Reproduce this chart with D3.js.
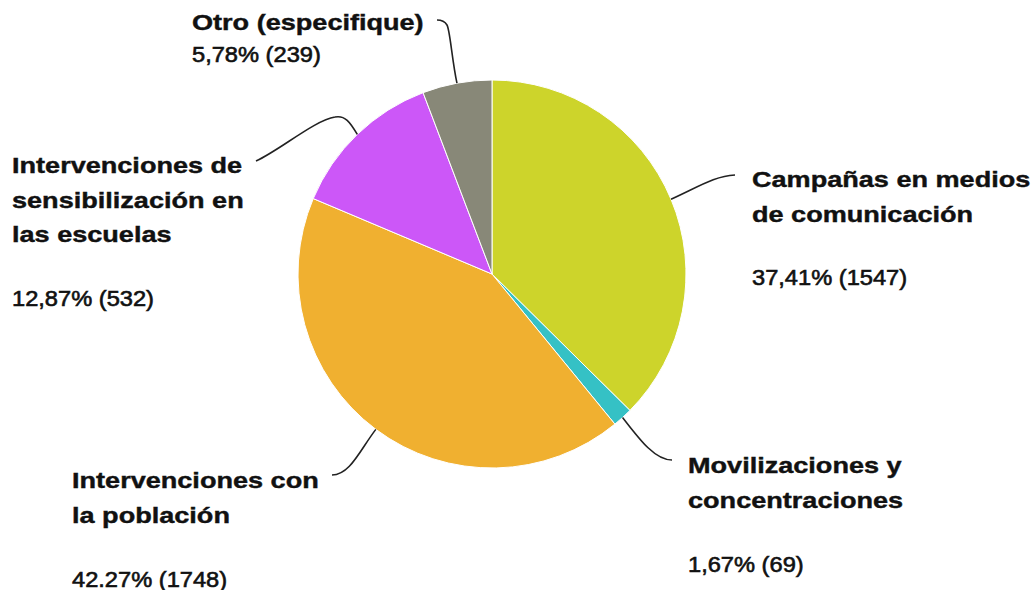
<!DOCTYPE html>
<html>
<head>
<meta charset="utf-8">
<script src="https://cdn.jsdelivr.net/npm/d3@7"></script>
<style>
  body { margin: 0; background: #fff; }
  text { font-family: "Liberation Sans", Arial, sans-serif; fill: #111; }
  .title { font-weight: bold; font-size: 21.5px; stroke: #111; stroke-width: 0.4px; }
  .value { font-size: 21.5px; stroke: #111; stroke-width: 0.6px; }
</style>
</head>
<body>
<svg width="1035" height="590"></svg>
<script>
var categories = [
    "Campañas en medios de comunicación",
    "Movilizaciones y concentraciones",
    "Intervenciones con la población",
    "Intervenciones de sensibilización en las escuelas",
    "Otro (especifique)"
];
var counts = [1547, 69, 1748, 532, 239];
var percentLabels = ["37,41%", "1,67%", "42.27%", "12,87%", "5,78%"];
var colors = ["#cdd42b", "#35c1c5", "#f0b030", "#cc57f8", "#888878"];

// label layout, one per slice
var titleLines = [
    ["Campañas en medios", "de comunicación"],
    ["Movilizaciones y", "concentraciones"],
    ["Intervenciones con", "la población"],
    ["Intervenciones de", "sensibilización en", "las escuelas"],
    ["Otro (especifique)"]
];
var labelPos = [
    {x: 752, y: 187, gap: 63},
    {x: 688, y: 473, gap: 64},
    {x: 72, y: 488, gap: 64},
    {x: 12, y: 173, gap: 64},
    {x: 192, y: 30, gap: 32}
];

var data = categories.map(function(c, i) {
    return {name: c, count: counts[i], pct: percentLabels[i], color: colors[i]};
});

var svg = d3.select("svg");
var cx = 492, cy = 274, r = 194;

var pie = d3.pie().sort(null).value(d => d.count);
var arc = d3.arc().innerRadius(0).outerRadius(r);
var arcs = pie(data);

var g = svg.append("g").attr("transform", "translate(" + cx + "," + cy + ")");

g.selectAll("path.slice")
    .data(arcs)
    .enter().append("path")
    .attr("class", "slice")
    .attr("d", arc)
    .attr("fill", d => d.data.color)
    .attr("stroke", "#fff")
    .attr("stroke-width", 1);

// leader lines: start on the rim at the slice's middle angle
function rimPoint(d) {
    var a = (d.startAngle + d.endAngle) / 2;
    return [cx + r * Math.sin(a), cy - r * Math.cos(a)];
}

var leaderShapes = [
    function(p) { return "M" + p + "C700,186 715,176 735,175"; },
    function(p) { return "M" + p + "C640,440 655,460 672,460"; },
    function(p) { return "M" + p + "C360,450 350,475 332,475"; },
    function(p) { return "M" + p + "C350,122 345,115 335,117C315,120 280,150 256,161"; },
    function(p) { return "M" + p + "C452,60 450,30 447,25Q444,20 437,20"; }
];

svg.selectAll("path.leader")
    .data(arcs)
    .enter().append("path")
    .attr("class", "leader")
    .attr("d", (d, i) => leaderShapes[i](rimPoint(d)))
    .attr("fill", "none")
    .attr("stroke", "#222")
    .attr("stroke-width", 1.6);

var labels = svg.selectAll("g.label")
    .data(arcs)
    .enter().append("g")
    .attr("class", "label");

labels.each(function(d, i) {
    var el = d3.select(this);
    var pos = labelPos[i];
    var lines = titleLines[i];
    lines.forEach(function(line, k) {
        el.append("text")
            .attr("class", "title")
            .attr("transform", "translate(" + pos.x + "," + (pos.y + k * 34.5) + ") scale(1.26,1)")
            .text(line);
    });
    el.append("text")
        .attr("class", "value")
        .attr("transform", "translate(" + pos.x + "," + (pos.y + (lines.length - 1) * 34.5 + pos.gap) + ") scale(1.1,1)")
        .text(d.data.pct + " (" + d.data.count + ")");
});
</script>
</body>
</html>
